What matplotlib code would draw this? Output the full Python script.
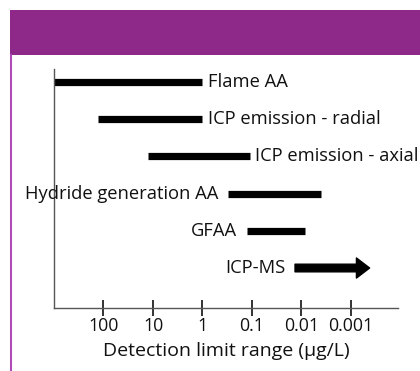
import matplotlib
matplotlib.use("Agg")
import matplotlib.pyplot as plt
from matplotlib.ticker import FixedLocator, NullLocator, FixedFormatter
from matplotlib.patches import Rectangle
from matplotlib.lines import Line2D

plt.rcParams['font.family'] = ['Open Sans', 'DejaVu Sans']

# Data (detection limit ranges, µg/L)
techniques = ["Flame AA", "ICP emission - radial", "ICP emission - axial",
              "Hydride generation AA", "GFAA", "ICP-MS"]
range_high = [1000, 130, 12.6, 0.3, 0.126, 0.0135]   # worst (left end)
range_low = [1, 1, 0.11, 0.004, 0.0083, 0.00042]     # best (right end)
label_side = ["right", "right", "right", "left", "left", "left"]
open_ended = [False, False, False, False, False, True]
tick_values = [100, 10, 1, 0.1, 0.01, 0.001]
tick_labels = ["100", "10", "1", "0.1", "0.01", "0.001"]
xlabel = "Detection limit range (µg/L)"

W, H = 420, 371
fig = plt.figure(figsize=(W / 100, H / 100), dpi=100)
fig.patch.set_facecolor("white")

purple = "#8E298A"
# header band
fig.add_artist(Rectangle((10 / W, 1 - 55 / H), 1 - 10 / W, 45 / H,
                         transform=fig.transFigure, facecolor=purple,
                         edgecolor="none"))
# left border line
fig.add_artist(Line2D([11 / W, 11 / W], [0, 1 - 55 / H],
                      transform=fig.transFigure, color="#B04CB8", lw=1.5))

ax = fig.add_axes([54 / W, (H - 308) / H, (398 - 54) / W, (308 - 69) / H])
ax.set_xscale("log")
ax.set_xlim(1000, 10 ** -3.95)
n = len(techniques)
ypos = list(range(n, 0, -1))
ax.set_ylim(-0.075, 6.35)

for y, name, hi, lo, side, arrow in zip(ypos, techniques, range_high,
                                         range_low, label_side, open_ended):
    if arrow:
        ax.annotate("", xy=(lo, y), xytext=(hi, y),
                    arrowprops=dict(arrowstyle="simple,head_width=1.45,head_length=0.95,tail_width=0.55",
                                    mutation_scale=10, color="black",
                                    shrinkA=0, shrinkB=0))
    else:
        ax.hlines(y, hi, lo, colors="black", lw=5.2, capstyle="butt")
    if side == "right":
        ax.annotate(name, xy=(lo, y), xytext=(4, 0), textcoords="offset points",
                    ha="left", va="center", fontsize=13.2, color="#111111")
    else:
        ax.annotate(name, xy=(hi, y), xytext=(-7, 0), textcoords="offset points",
                    ha="right", va="center", fontsize=13.2, color="#111111")

for s in ["top", "right"]:
    ax.spines[s].set_visible(False)
for s in ["left", "bottom"]:
    ax.spines[s].set_color("#555555")
    ax.spines[s].set_linewidth(1.0)
ax.set_yticks([])
ax.xaxis.set_major_locator(FixedLocator(tick_values))
ax.xaxis.set_major_formatter(FixedFormatter(tick_labels))
ax.xaxis.set_minor_locator(NullLocator())
ax.tick_params(axis="x", direction="inout", length=11, width=1.4,
               color="#333333", labelsize=12.8, pad=1, labelcolor="#111111")
ax.set_xlabel(xlabel, fontsize=14, labelpad=5, color="#111111")
ax.patch.set_alpha(0)

fig.savefig("out.png", dpi=100)
